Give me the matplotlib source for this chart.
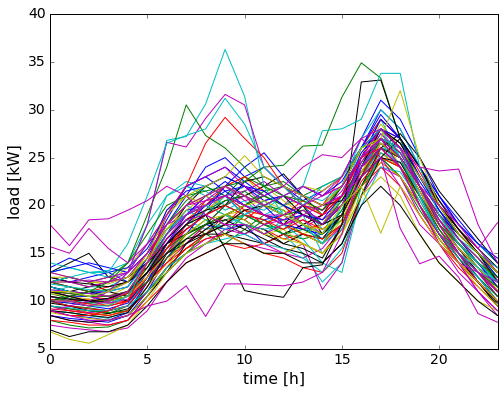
import matplotlib
matplotlib.use("Agg")
import matplotlib.pyplot as plt

hours = list(range(24))

# distinctive outlier profiles
cyan_peak9   = [11.5,11,10.5,11,13,18,26.8,27.2,30.6,36.3,31.4,22,19,18,16,20,24,27,26,21,17,15,13.5,12]
green_peak7  = [10,10.5,11,12,14,19,24,30.5,27.3,26,24,22,21,20.5,19.5,22,26,27,25,20,17,15,13,11.5]
green_peak16 = [12,12.5,12,12.5,14,17,20,21,21.5,22,22.5,24,24.2,26.2,26.3,31.3,34.9,33.3,27,22,18,16,14,12.5]
black_peak17 = [11,10.5,10,10,11,13,16,18,19,15.5,11.1,10.7,10.4,13.5,13.8,18,32.9,33.1,27,24,20,17,15,13]
cyan_peak18  = [10,10,9.5,9.5,10.5,14,17,19,20,21,19,20,21,22,27.8,28,29,33.8,33.8,24,19,16,14,12]
mag_peak9    = [9,9.5,10,11,13,18,26.6,26.1,29.1,31.6,30.5,24,22,21,20,21,25,28,26,22,18,15,12,10]
red_peak9    = [9,8.5,8.5,9,10,14,19,22,26.5,29.2,27,25,22,20,19,21,25,26,24,20,16,14,12,10]
cyan_high    = [12,12.5,13,13,16,21,26.5,27.3,28,31.2,28.5,24,22,20,22,23,26,28,25,21,17,15,13,12]
mag_night1   = [18,15.8,18.5,18.6,19.5,20.5,22,21,19,18,18,17,18,19,20,21,23,25,22,18,16,14,13,12]
mag_night2   = [15.7,15,17.6,15.5,14,16,18,20,20.5,21,20,19,18,19,18,20,24,26,24,20,17,15,13,11]
yellow_low   = [6.8,6,5.6,6.5,7.5,10,13,15,16,17,16,15,15,16,15,17,21,23,21,17,14,12,10,9]
black_low    = [7,6.3,6.8,6.8,7.5,9.5,12,14,15,16,16,15,15,14,14,16,20,22,20,17,14,12,10,8.5]
mag_low8     = [9,8.5,8,8,8.5,9.5,10,11.6,8.4,11.8,11.8,11.7,11.6,12,13,17,24,27,24,20,16,14,11,9]
yellow_dip17 = [10,10,9.5,10,11,14,18,20,21,22,21,20,19,18,17,20,22,17.1,22,19,16,14,12,10]
yellow_pk18  = [11,11,10.5,11,12,15,19,21,22,23,25.2,23,22,21,20,22,26,27,32,25,20,17,15,13]
mag_eve21    = [12,12,11.5,12,13,16,19,22,23,24,22,21,22,24,25.3,25,27,28,26,24,23.6,23.8,18,14]
mag_dip19    = [10,10,9.5,10,11,14,17,19,20,21,20,19,19,20,21,23,27,25,17.6,13.9,14.7,12.5,8.7,7.8]
mag_end_high = [13,12.5,12,12.5,13,15,18,20,21,22,21,20,21,22,21,22,25,27,25,22,20,18,15.5,18.2]

# typical profiles
b1 = [10.5,10,9.8,10.2,11,14,17,19.5,20,21,19,18.5,19,20,18,20,25,28,26,22,19,16,14,12]
g1 = [9,8.8,8.5,8.7,9.5,12.5,15,17,18.5,17,19,18,17.5,19,18,21,24,27,24,21,18,16,13.5,11]
r1 = [11,10.5,10,9.5,10,13,16,18,17,19,18.5,20,19,17.5,18,20,23,26,25,21,18,15.5,13,11.5]
c1 = [12.5,12,11.5,11.5,12.5,15,19,22,21,19.5,20.5,19,20,18,17,21,26,29,25,22,19,17,15,13]
m1 = [10,9.5,9,9,9.5,12,15,18,19.5,21,22,20,19,17.5,19,20,24,27,25,22,18,16,14,11.5]
y1 = [11.5,11,10.5,10.5,11.5,14,17.5,20,21,20,19,18,19,19.5,20,22,25,28,24,21,17,15,13,11]
k1 = [13,14,15,12.5,12,14,17,20,22,23,22,21,20,19,18,20,23,27,25,22,19,17,15,13.5]
b2 = [8.5,8.2,8,7.8,8.5,11,14.5,17,18,17.5,18,16,17,18,16.5,19,24,26.5,25,21,17,14,12,10]
g2 = [10,9.5,9.3,9,9.5,12,15.5,18,17,16,17.5,19,18.5,17,16,19,23,25,23,20,17,15,13,11]
r2 = [9.5,9.2,8.8,8.5,9,11.5,14,16,18,19,18,17.5,16.5,17,16,18,22,24.5,23,20,16.5,14,12,10]
c2 = [11,11.5,11,10.5,11,14,18,20,19,21,20,19.5,21,20,17.5,19,23,26,24,21,18,16,14,12]
m2 = [12,11.5,11,11,12,15,18,19,21,22,20.5,21,20,22,21,22,25,29,27,23,20,17,15,13]
y2 = [10,9.8,9.5,9.6,10.5,13.5,16,18,19,20,21,22,20.5,19,18.5,20,24,26,25,22,18,15.5,13.5,11.5]
k2 = [12,12.5,12,11,10.5,13,16,17.5,19,20.5,21,22,23.3,21,19,21,24,27,26,23,20,17.5,15,13]
b3 = [13.5,14.5,13.8,13,12,14,18,21,24,25,23,24,22,21,20,22,26,30,28,24,21,18,16,14]
g3 = [8,7.5,7.2,7.3,8,10.5,13.5,15.5,17,18,17,18.5,17,16.5,17,18.5,22,25,23,19.5,16.5,14,12,9.5]
r3 = [10.5,10,10.2,9.8,10,12,14.5,16,17.5,18,20,21,20,18,19,21,24,25.5,24,21,18,15,13,11]
c3 = [9,8.8,8.5,8.2,9,12,16,18.5,17.5,18,19,18,17,15,12,14,22,25,24,20,17,14.5,12.5,10.5]
m3 = [8.5,8,7.8,7.5,8,10.5,13,15,16.5,17,16,15.5,15,16,11.2,14,21,24,23,19,16,13,11,9]
y3 = [12,12,11.5,12,13.5,16,19,21,20,22,23,21,20,20.5,19,21,24,27,25.5,22,19,16.5,14,12.5]
k3 = [10,10.5,11,10.5,10,12,15,16,17,17,16.5,16,17,18,19,22,26,28,26.5,23,20,17,15,13]
b4 = [11,10.5,10.5,10,10.5,13,15,17,19.5,22,24,25.5,23,21,20,21,24,26,25,22,18.5,16,14,12]
g4 = [11.5,11,10.8,10.5,11,13.5,17,19,20,21,23,22,22.5,21,22,23,26,28,26,23,19.5,17,15,12.5]
r4 = [8,7.8,7.5,7.5,8,10,12,14,15,16,15.5,16,17,16,15,17.5,22,24,22,19,16,13.5,11.5,9.5]
c4 = [10,9.5,9.2,9,9.5,12.5,15,17,18,19,18,17,18.5,19,15,17,24,27.5,25,21,17.5,15,13,11]
m4 = [11,10.5,10,10,10.5,12,14,16,18,20,19,20.5,21,20,19,21,25,28,26,22,19,16,14,12]
y4 = [9.5,9,8.8,8.5,9,11.5,14,17,18,19,19.5,19,18,17,16,18.5,23,25.5,24,20.5,17,14.5,12.5,10]
k4 = [9.8,9.5,9,8.7,9.2,11,13.5,15,16,17,18,17.5,16,15.5,14.5,18,22,26,25,21.5,18,15.5,13,10.5]
b5 = [12.5,12,12.5,13,13.5,15.5,19,22,23,24,22.5,21,22,20.5,21.5,23,27,31,29,25,21,18.5,16,14]
g5 = [10.8,10.3,10,10,10.8,13,16,18,19.5,20.5,21,20,19,19.5,18,20.5,24.5,27,25.5,22,18.5,16,14,12]
r5 = [12,11.5,11,11.5,12,14,16.5,18.5,20,22,23,21.5,20,21,20,23,26,29,27,23.5,20,17.5,15,13]
c5 = [13,13.5,13,12.5,13,16,21,22.5,22,21,22,21,20,21,20.5,22,27,30,28,24,20.5,18,16,14]
m5 = [9.5,9,8.8,9,9.5,12,15,17.5,19,20,21,19,18,18.5,17,19,23,26,24,21,17,15,13,10.5]
y5 = [11,11,10.8,10.5,11,13,15.5,18,19.5,21,20,19,18.5,17,18,21,25,28.5,26,22,19,16,14,12]
k5 = [11.5,11,11.5,12,12.5,14,16,17,18,19,18.5,17,16,17,16.5,19,24,28,26.5,23,20,17.5,15.5,13.5]
b6 = [9,8.5,8.3,8,8.8,12,16,19,21,22.5,21,20,18,17.5,17,19,25,29,27,22,18,15,12.5,10]
g6 = [12,11.5,11,11.2,12,14.5,18,20.5,22,21,20,21.5,22,20,19.5,22,25,26.5,25,22,19,16.5,14.5,12.5]
r6 = [10,9.5,9.2,9,9.5,12,14,15.5,16.5,17,16,15,14.5,13.5,13,15,21,26,25,21,17.5,14.5,12,10]
c6 = [14,13.5,13,13.2,14,18,21,22,21.5,20,19,18,19.5,18,17,19.5,24,26.5,24,21,18.5,16.5,15,13.5]
m6 = [7.5,7.2,7,6.8,7.2,9,12,14.5,16,17.5,17,16,15,14.5,15.5,18,23,27,25,21,17,14,11,8.5]
y6 = [13,12.5,12,12,12.5,15,19.5,21,20,19,18,17,17.5,16,15,17,22,24.5,23,20,17,15,13.5,12]
k6 = [8.5,8,7.8,8,8.5,10.5,13,16,17.5,19,20,19,18,20,17,19,24,28,26,22,18,15,12,9.5]
b7 = [11.5,11,10.8,11,11.5,14.5,18.5,22,23,21.5,20,19,18.5,19,18,20,24,27,26,22.5,19.5,17,15,12.5]
g7 = [9.5,9.2,9,8.8,9,11,13,15,17,18.5,19,18,17,17.5,16.5,18,22,25,24,21,17.5,15,12.5,10.5]
r7 = [11,10.8,10.5,10.2,10.8,12.5,15.5,18,20.5,21,19.5,18,19,20.5,19.5,21,25,28,26,22,18.5,16,14,11.5]
c7 = [10.5,10,9.8,9.8,10.5,13,17,19.5,18.5,17.5,19,20.5,19,18,16,17.5,23,26,25.5,22,18,15.5,13.5,11.5]
m7 = [12.5,12,12.2,12,12.5,15,17.5,19,20,21,21.5,22.5,21,20,21.5,23,26,28,27,23,20.5,18,15.5,13]
y7 = [8.8,8.5,8.2,8,8.5,10.5,13.5,16.5,18,19,18.5,17,16.5,16,15,17,21,25,24,20,16.5,14,11.5,9.5]
k7 = [12.5,12,11.8,11.5,12,13.5,16.5,18.5,19.5,20,22.5,23,22,21,20,20.5,23.5,26,27.5,25,21.5,19,16.5,14]
b8 = [10,9.8,9.5,9.2,9.8,12.5,16,18,20,21.5,22,20.5,21,22,21,22.5,26,29.5,27,23,19.5,16.5,14,11.5]
g8 = [10.5,10,9.8,10,10.5,12,14.5,16.5,18,19,20,21,20,19,18,19,23,27,26,22,18,15.5,13.5,11]
r8 = [9.2,9,8.7,8.5,9,11,13.5,15.5,17,18,19.5,19,18,17,16.5,18,22.5,25,24,21,17,14,12,10]
c8 = [11.8,11.5,11.2,11,11.5,14,17.5,19,20,19,18,17.5,18,16.5,14,13,21,25.5,24.5,21.5,18,16,14,12]
m8 = [10.5,10.2,10,9.8,10.2,12.5,16,18.5,19,18,17,18,18.5,19.5,18.5,20,24.5,27.5,25.5,22,18.5,15.5,13.5,11]
y8 = [12.5,12.5,12,11.8,12.5,14.5,17.5,19.5,21,22,21,20,21,22,21.5,23,25.5,27,26,23,20,17,15,13]
k8 = [9,8.8,8.5,8.3,8.8,11.5,15,17,18,18.5,17.5,16.5,15.5,15,14,16,21,25,24.5,21,17,14.5,12,9.8]
b9 = [13,13.5,14,13.5,13,15,19.5,21.5,22,23,22,21.5,20,19,18.5,21,25.5,28,27,24,21,18,16,14.5]
g9 = [11,10.8,10.5,10.5,11,13,15.5,17,18,20,21.5,20,19.5,18,17,19.5,23.5,26,25,22,19,16.5,14.5,12]
r9 = [10.2,10,9.7,9.5,10,12.5,15.5,17.5,19,20,19,18.5,17.5,18.5,17.5,19,23,26.5,25,21.5,18,15,13,11]
c9 = [9.5,9.3,9,9,9.5,11,13.5,15,16,16.5,17,16,15.5,14.5,13,15.5,20,24,23.5,20.5,17,14.5,12.5,10]
m9 = [11.2,11,10.8,10.5,11,13,16.5,19,20.5,22,21,20,21,20,19.5,21.5,25,27,26,22,19,16.5,14.5,12.2]
y9 = [10.8,10.5,10.2,10,10.5,12.5,15,17,18.5,19,20,20.5,19.5,18,17.5,19,23.5,26.5,25,21.5,18,15.5,13.5,11.2]
k9 = [10.5,10.2,10,10.3,11,13,15,16.5,17,18,19.5,20,21,19,18,19,23,25,27,24,20.5,17.5,15,12]

series = [
    (b1,'b'),(g1,'g'),(r1,'r'),(c1,'c'),(m1,'m'),(y1,'y'),(k1,'k'),
    (b2,'b'),(g2,'g'),(r2,'r'),(c2,'c'),(m2,'m'),(y2,'y'),(k2,'k'),
    (b3,'b'),(g3,'g'),(r3,'r'),(c3,'c'),(m3,'m'),(y3,'y'),(k3,'k'),
    (b4,'b'),(g4,'g'),(r4,'r'),(c4,'c'),(m4,'m'),(y4,'y'),(k4,'k'),
    (b5,'b'),(g5,'g'),(r5,'r'),(c5,'c'),(m5,'m'),(y5,'y'),(k5,'k'),
    (b6,'b'),(g6,'g'),(r6,'r'),(c6,'c'),(m6,'m'),(y6,'y'),(k6,'k'),
    (b7,'b'),(g7,'g'),(r7,'r'),(c7,'c'),(m7,'m'),(y7,'y'),(k7,'k'),
    (b8,'b'),(g8,'g'),(r8,'r'),(c8,'c'),(m8,'m'),(y8,'y'),(k8,'k'),
    (b9,'b'),(g9,'g'),(r9,'r'),(c9,'c'),(m9,'m'),(y9,'y'),(k9,'k'),
    (cyan_peak9,'c'),(green_peak7,'g'),(green_peak16,'g'),(black_peak17,'k'),
    (cyan_peak18,'c'),(mag_peak9,'m'),(red_peak9,'r'),(cyan_high,'c'),
    (mag_night1,'m'),(mag_night2,'m'),(yellow_low,'y'),(black_low,'k'),
    (mag_low8,'m'),(yellow_dip17,'y'),(yellow_pk18,'y'),(mag_eve21,'m'),
    (mag_dip19,'m'),(mag_end_high,'m'),
]

plt.style.use('classic')
fig = plt.figure(figsize=(503/72, 395/72), dpi=72, facecolor='white')
ax = fig.add_axes([50/503, 46/395, 447.5/503, 335/395])
for vals, col in series:
    ax.plot(hours, vals, color=col, linewidth=1.0)
ax.set_xlim(0, 23)
ax.set_ylim(5, 40)
ax.set_xticks([0, 5, 10, 15, 20])
ax.set_yticks([5, 10, 15, 20, 25, 30, 35, 40])
ax.set_xlabel('time [h]', fontsize=15.5)
ax.set_ylabel('load [kW]', fontsize=15.5)
ax.tick_params(labelsize=14)
fig.savefig('out.png', dpi=72, facecolor='white')
